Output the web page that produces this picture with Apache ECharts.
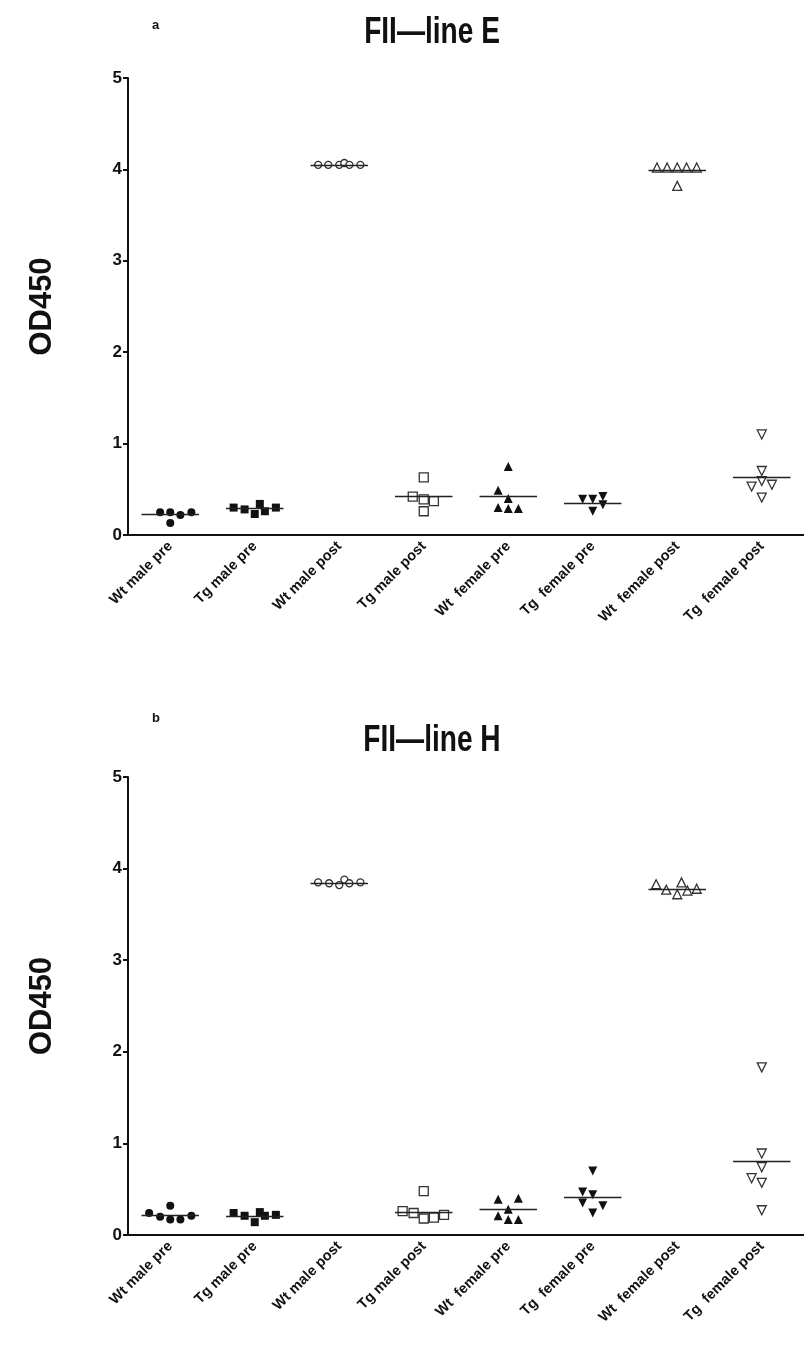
<!DOCTYPE html>
<html lang="en">
<head>
    <meta charset="UTF-8">
    <title>FII line E / line H</title>
    <script src="https://cdn.jsdelivr.net/npm/echarts@6/dist/echarts.min.js"></script>
    <style>
        body { margin: 0; background: #fff; }
    </style>
</head>
<body>
<div id="main" style="width: 804px;height: 1361px;"></div>

<script type="text/javascript">
    // groups on the x axis
    var categories = ['Wt male pre', 'Tg male pre', 'Wt male post', 'Tg male post',
        'Wt  female pre', 'Tg  female pre', 'Wt  female post', 'Tg  female post'];
    var yTicks = [0, 1, 2, 3, 4, 5];

    // panel a: FII - line E, OD450 per animal
    var lineEValues = [
        [0.25, 0.25, 0.13, 0.22, 0.25],
        [0.30, 0.28, 0.23, 0.34, 0.26, 0.30],
        [4.05, 4.05, 4.05, 4.07, 4.05, 4.05],
        [0.63, 0.42, 0.39, 0.37, 0.26],
        [0.75, 0.49, 0.40, 0.30, 0.29, 0.29],
        [0.39, 0.39, 0.42, 0.33, 0.26],
        [4.02, 4.02, 4.02, 4.02, 4.02, 3.82],
        [1.10, 0.70, 0.53, 0.59, 0.55, 0.41]
    ];
    // horizontal spread of the dots inside a group (category units)
    var lineEJitter = [
        [-0.12, 0, 0, 0.12, 0.25],
        [-0.25, -0.12, 0, 0.06, 0.12, 0.25],
        [-0.25, -0.13, 0, 0.06, 0.12, 0.25],
        [0, -0.13, 0, 0.12, 0],
        [0, -0.12, 0, -0.12, 0, 0.12],
        [-0.12, 0, 0.12, 0.12, 0],
        [-0.24, -0.12, 0, 0.11, 0.23, 0],
        [0, 0, -0.12, 0, 0.12, 0]
    ];
    var lineEMeans = [0.23, 0.29, 4.05, 0.42, 0.42, 0.35, 3.99, 0.63];

    // panel b: FII - line H
    var lineHValues = [
        [0.24, 0.20, 0.32, 0.17, 0.17, 0.21],
        [0.24, 0.21, 0.14, 0.25, 0.21, 0.22],
        [3.85, 3.84, 3.82, 3.88, 3.84, 3.85],
        [0.48, 0.26, 0.24, 0.18, 0.19, 0.22],
        [0.39, 0.40, 0.28, 0.21, 0.17, 0.17],
        [0.70, 0.47, 0.44, 0.35, 0.32, 0.24],
        [3.83, 3.77, 3.72, 3.85, 3.76, 3.78],
        [1.83, 0.89, 0.74, 0.62, 0.57, 0.27]
    ];
    var lineHJitter = [
        [-0.25, -0.12, 0, 0, 0.12, 0.25],
        [-0.25, -0.12, 0, 0.06, 0.12, 0.25],
        [-0.25, -0.12, 0, 0.06, 0.12, 0.25],
        [0, -0.25, -0.12, 0, 0.12, 0.24],
        [-0.12, 0.12, 0, -0.12, 0, 0.12],
        [0, -0.12, 0, -0.12, 0.12, 0],
        [-0.25, -0.13, 0, 0.05, 0.12, 0.23],
        [0, 0, 0, -0.12, 0, 0]
    ];
    var lineHMeans = [0.215, 0.21, 3.84, 0.25, 0.28, 0.41, 3.78, 0.81];

    // marker look per group (filled / open, shape)
    var marks = [
        {shape: 'circle', open: false, rot: 0, size: 8},
        {shape: 'rect', open: false, rot: 0, size: 8},
        {shape: 'circle', open: true, rot: 0, size: 7},
        {shape: 'rect', open: true, rot: 0, size: 9},
        {shape: 'triangle', open: false, rot: 0, size: 9},
        {shape: 'triangle', open: false, rot: 180, size: 9},
        {shape: 'triangle', open: true, rot: 0, size: 9},
        {shape: 'triangle', open: true, rot: 180, size: 9}
    ];

    var font = 'Liberation Sans, Arial, sans-serif';

    function buildSeries(values, jitter, means, g) {
        var list = [];
        for (var i = 0; i < values.length; i++) {
            var pts = [];
            for (var j = 0; j < values[i].length; j++) {
                pts.push([i + jitter[i][j], values[i][j]]);
            }
            var m = marks[i];
            list.push({
                type: 'scatter',
                xAxisIndex: g * 2 + 1,
                yAxisIndex: g,
                data: pts,
                symbol: m.shape,
                symbolSize: m.size,
                symbolRotate: m.rot,
                z: 3,
                itemStyle: m.open
                    ? {color: '#fff', borderColor: '#333', borderWidth: 1.3, opacity: 1}
                    : {color: '#111', opacity: 1},
                markLine: { // mean line of the group
                    silent: true,
                    symbol: 'none',
                    animation: false,
                    label: {show: false},
                    lineStyle: {color: '#222', width: 1.3, type: 'solid'},
                    data: [[{coord: [i - 0.34, means[i]]}, {coord: [i + 0.34, means[i]]}]]
                }
            });
        }
        return list;
    }

    function catAxis(g) {
        return {
            type: 'category',
            gridIndex: g,
            data: categories,
            boundaryGap: true,
            axisLine: {onZero: false, lineStyle: {color: '#111', width: 2}},
            axisTick: {alignWithLabel: true, length: 5, lineStyle: {color: '#111', width: 2}},
            axisLabel: {
                interval: 0, rotate: 45, margin: 9,
                color: '#111', fontWeight: 'bold', fontSize: 14.5, fontFamily: font
            }
        };
    }

    function valXAxis(g) {
        return {type: 'value', gridIndex: g, min: -0.5, max: 7.5, show: false};
    }

    function yAxis(g) {
        return {
            type: 'value',
            gridIndex: g,
            min: yTicks[0],
            max: yTicks[yTicks.length - 1],
            interval: 1,
            name: 'OD450',
            nameLocation: 'middle',
            nameGap: 70,
            nameTextStyle: {color: '#111', fontWeight: 'bold', fontSize: 31, fontFamily: font},
            axisLine: {show: true, onZero: false, lineStyle: {color: '#111', width: 2}},
            axisTick: {show: true, length: 5, lineStyle: {color: '#111', width: 2}},
            axisLabel: {color: '#111', fontWeight: 'bold', fontSize: 17, margin: 6, fontFamily: font},
            splitLine: {show: false}
        };
    }

    // condensed bold heading, like the original figure
    function heading(text, x, y) {
        return {
            type: 'text',
            x: x, y: y,
            scaleX: 0.78,
            style: {
                text: text, fill: '#111', align: 'center', verticalAlign: 'middle',
                font: 'bold 36px Liberation Sans, Arial, sans-serif'
            }
        };
    }

    var letterStyle = {color: '#111', fontWeight: 'bold', fontSize: 13, fontFamily: font};

    var option = {
        backgroundColor: '#fff',
        animation: false,
        title: [
            {text: 'a', left: 147, top: 14, textStyle: letterStyle},
            {text: 'b', left: 147, top: 707, textStyle: letterStyle}
        ],
        graphic: [
            heading('FII\u2014line E', 432, 33),
            heading('FII\u2014line H', 432, 741)
        ],
        grid: [
            {left: 128, top: 78, width: 686, height: 457},
            {left: 128, top: 777, width: 686, height: 458}
        ],
        xAxis: [catAxis(0), valXAxis(0), catAxis(1), valXAxis(1)],
        yAxis: [yAxis(0), yAxis(1)],
        series: buildSeries(lineEValues, lineEJitter, lineEMeans, 0)
            .concat(buildSeries(lineHValues, lineHJitter, lineHMeans, 1))
    };

    var myChart = echarts.init(document.getElementById('main'));
    myChart.setOption(option);
</script>
</body>
</html>
